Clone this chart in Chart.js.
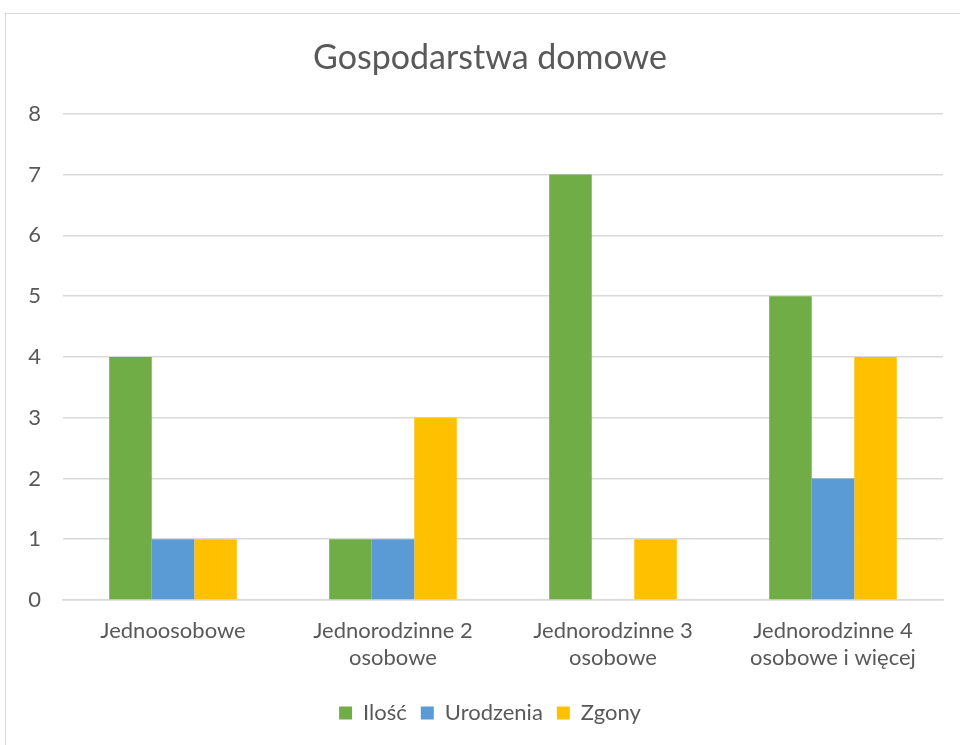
<!DOCTYPE html>
<html>
<head>
<meta charset="utf-8">
<script src="https://cdn.jsdelivr.net/npm/chart.js@4"></script>
<style>
    body { margin: 0; background: #fff; overflow: hidden; }
    #wrap {
        position: absolute;
        left: 5px;
        top: 13px;
        width: 970px;
        height: 740px;
        border: 1px solid #d9d9d9;
        box-sizing: border-box;
    }
</style>
</head>
<body>
<div id="wrap"><canvas id="chart"></canvas></div>
<script>
// dane wykresu
const categories = [
    'Jednoosobowe',
    ['Jednorodzinne 2', 'osobowe'],
    ['Jednorodzinne 3', 'osobowe'],
    ['Jednorodzinne 4', 'osobowe i więcej']
];
const ilosc = [4, 1, 7, 5];
const urodzenia = [1, 1, 0, 2];
const zgony = [1, 3, 1, 4];
const yTicks = [0, 1, 2, 3, 4, 5, 6, 7, 8];

const textColor = '#595959';
const fontFamily = 'Lato, "Open Sans", sans-serif';

new Chart(document.getElementById('chart'), {
    type: 'bar',
    data: {
        labels: categories,
        datasets: [
            { label: 'Ilość', data: ilosc, backgroundColor: '#70AD47' },
            { label: 'Urodzenia', data: urodzenia, backgroundColor: '#5B9BD5' },
            { label: 'Zgony', data: zgony, backgroundColor: '#FFC000' }
        ]
    },
    options: {
        responsive: true,
        maintainAspectRatio: false,
        animation: false,
        categoryPercentage: 0.58,
        barPercentage: 1,
        layout: {
            padding: { left: 0, right: 0, top: 0, bottom: 18 }
        },
        plugins: {
            title: {
                display: true,
                text: 'Gospodarstwa domowe',
                color: textColor,
                font: { family: fontFamily, size: 34, weight: 'normal' },
                padding: { top: 24, bottom: 35 }
            },
            legend: {
                position: 'bottom',
                labels: {
                    color: textColor,
                    boxWidth: 13,
                    boxHeight: 13,
                    padding: 14,
                    font: { family: fontFamily, size: 22 }
                }
            },
            tooltip: { enabled: false }
        },
        scales: {
            x: {
                grid: { display: false },
                border: { color: '#d9d9d9', width: 1.5 },
                ticks: {
                    color: textColor,
                    padding: 10,
                    font: { family: fontFamily, size: 22 },
                    maxRotation: 0,
                    autoSkip: false
                },
                afterFit(scale) { scale.height = 88; }
            },
            y: {
                min: 0,
                max: 8,
                afterBuildTicks(scale) {
                    scale.ticks = yTicks.map(v => ({ value: v }));
                },
                grid: { color: '#d9d9d9', lineWidth: 1.5, drawTicks: false },
                border: { display: false },
                ticks: {
                    color: textColor,
                    padding: 22,
                    font: { family: fontFamily, size: 22 }
                },
                afterFit(scale) { scale.width = 57; }
            },
            // pusta oś po prawej, tylko dla marginesu obszaru wykresu
            yRight: {
                position: 'right',
                min: 0,
                max: 8,
                grid: { display: false },
                border: { display: false },
                ticks: { display: false },
                afterFit(scale) { scale.width = 31; }
            }
        }
    }
});
</script>
</body>
</html>
